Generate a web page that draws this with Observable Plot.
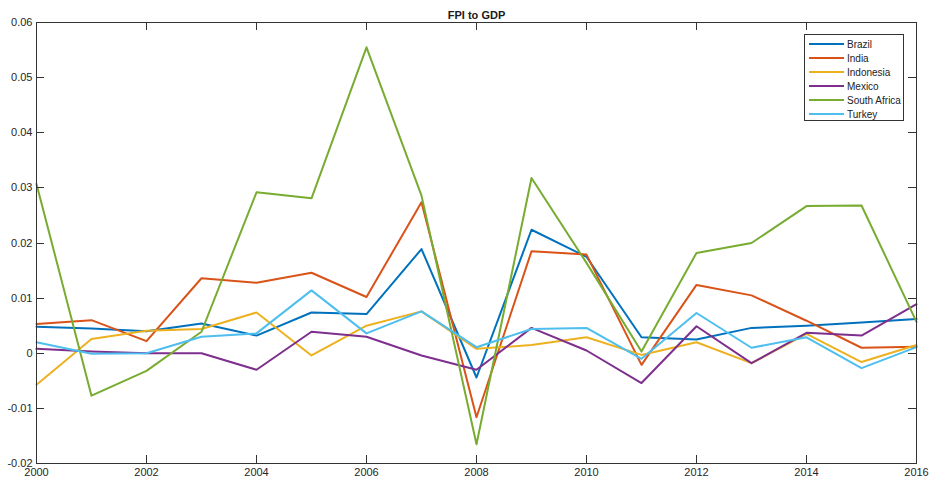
<!DOCTYPE html>
<html>
<head>
<meta charset="utf-8">
<script src="https://cdn.jsdelivr.net/npm/d3@7"></script>
<script src="https://cdn.jsdelivr.net/npm/@observablehq/plot@0.6"></script>
<style>
  html, body { margin: 0; padding: 0; background: #fff; }
  #wrap { position: relative; width: 930px; height: 484px; font-family: "Liberation Sans", Arial, sans-serif; }
  #legend { position: absolute; left: 804px; top: 34px; width: 100px; height: 87px; border: 1px solid #333; background: #fff; box-sizing: border-box; padding-top: 2px; }
  .row { display: flex; align-items: center; height: 14px; font-size: 10px; color: #222; white-space: nowrap; }
  .sw { flex: none; width: 35px; height: 2px; margin-left: 4px; margin-right: 3px; }
</style>
</head>
<body>
<div id="wrap"></div>
<script>
const title = "FPI to GDP";
const years = [2000,2001,2002,2003,2004,2005,2006,2007,2008,2009,2010,2011,2012,2013,2014,2015,2016];
const countries = ["Brazil","India","Indonesia","Mexico","South Africa","Turkey"];
const colors = ["#0072BD","#D95319","#EDB120","#7E2F8E","#77AC30","#4DBEEE"];
const brazil = [0.0048,0.0045,0.0040,0.0054,0.0032,0.0074,0.0071,0.0189,-0.0044,0.0224,0.0175,0.0029,0.0025,0.0046,0.0050,0.0056,0.0062];
const india = [0.0053,0.0060,0.0022,0.0136,0.0128,0.0146,0.0102,0.0274,-0.0116,0.0185,0.0179,-0.0021,0.0124,0.0105,0.0059,0.0010,0.0012];
const indonesia = [-0.0057,0.0026,0.0041,0.0044,0.0074,-0.0004,0.0050,0.0076,0.0008,0.0015,0.0029,-0.0003,0.0020,-0.0018,0.0035,-0.0016,0.0015];
const mexico = [0.0008,0.0003,0.0000,0.0000,-0.0030,0.0039,0.0030,-0.0004,-0.0030,0.0046,0.0005,-0.0054,0.0049,-0.0018,0.0037,0.0032,0.0089];
const southAfrica = [0.0307,-0.0077,-0.0032,0.0039,0.0292,0.0281,0.0555,0.0286,-0.0165,0.0318,0.0164,0.0003,0.0182,0.0200,0.0267,0.0268,0.0057];
const turkey = [0.0020,-0.0001,0.0000,0.0030,0.0036,0.0114,0.0036,0.0076,0.0011,0.0044,0.0046,-0.0010,0.0073,0.0010,0.0029,-0.0027,0.0011];
const xTicks = [2000,2002,2004,2006,2008,2010,2012,2014,2016];
const yTicks = [-0.02,-0.01,0,0.01,0.02,0.03,0.04,0.05,0.06];

(function () {
const series = [brazil, india, indonesia, mexico, southAfrica, turkey];
const data = [];
series.forEach((vals, i) => vals.forEach((v, j) => data.push({country: countries[i], year: years[j], value: v})));

const W = 930, H = 484, mt = 22, mb = 21, ml = 36, mr = 14;
const tl = 8;
const axisColor = "#333333";
const yFmt = d => d === 0 ? "0" : d.toFixed(2);

const chart = Plot.plot({
  width: W, height: H,
  marginTop: mt, marginBottom: mb, marginLeft: ml, marginRight: mr,
  style: {fontFamily: "'Liberation Sans', Arial, sans-serif", fontSize: "11px", color: "#262626", background: "#fff"},
  x: {domain: [2000, 2016]},
  y: {domain: [-0.02, 0.06]},
  color: {domain: countries, range: colors},
  marks: [
    Plot.axisX({ticks: xTicks, tickFormat: d => String(d), tickSize: 0, tickPadding: 5, label: null, fill: "#262626"}),
    Plot.axisY({ticks: yTicks, tickFormat: yFmt, tickSize: 0, tickPadding: 4, label: null, fill: "#262626"}),
    Plot.line(data, {x: "year", y: "value", z: "country", stroke: "country", strokeWidth: 2}),
    Plot.frame({stroke: axisColor}),
    Plot.text([title], {frameAnchor: "top", dy: -11, fontWeight: "bold", fontSize: 11, fill: "#1a1a1a"})
  ]
});

// inward ticks on all four sides, positioned through the chart's own scales
const sx = chart.scale("x"), sy = chart.scale("y");
const svg = d3.select(chart);
const g = svg.append("g").attr("stroke", axisColor).attr("stroke-width", 1);
const yTop = mt, yBottom = H - mb, xLeft = ml, xRight = W - mr;
xTicks.forEach(t => {
  const x = Math.round(sx.apply(t)) + 0.5;
  g.append("line").attr("x1", x).attr("x2", x).attr("y1", yBottom).attr("y2", yBottom - tl);
  g.append("line").attr("x1", x).attr("x2", x).attr("y1", yTop).attr("y2", yTop + tl);
});
yTicks.forEach(t => {
  const y = Math.round(sy.apply(t)) + 0.5;
  g.append("line").attr("y1", y).attr("y2", y).attr("x1", xLeft).attr("x2", xLeft + tl);
  g.append("line").attr("y1", y).attr("y2", y).attr("x1", xRight).attr("x2", xRight - tl);
});

const wrap = document.getElementById("wrap");
wrap.appendChild(chart);

const legend = document.createElement("div");
legend.id = "legend";
countries.forEach((c, i) => {
  const row = document.createElement("div");
  row.className = "row";
  const sw = document.createElement("span");
  sw.className = "sw";
  sw.style.background = colors[i];
  const t = document.createElement("span");
  t.textContent = c;
  row.appendChild(sw); row.appendChild(t);
  legend.appendChild(row);
});
wrap.appendChild(legend);
})();
</script>
</body>
</html>
